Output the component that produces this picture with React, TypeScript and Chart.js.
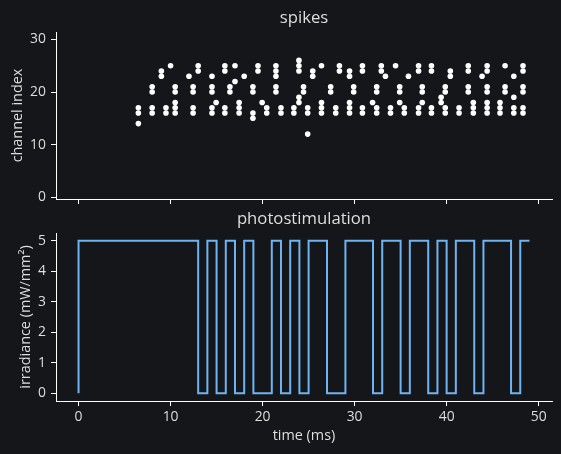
import React, { useEffect, useRef } from "react";
import { Chart, registerables } from "chart.js";

Chart.register(...registerables);

// ---- data ----
const spikeTimes: number[] = [
  6.5, 6.5, 6.5,
  8.0, 8.0, 8.0, 8.0,
  9.0, 9.0,
  9.5, 9.5,
  10.0,
  10.5, 10.5, 10.5, 10.5, 10.5,
  12.0,
  12.45, 12.45, 12.45, 12.45,
  13.0, 13.0,
  14.5, 14.5, 14.5, 14.5, 14.5,
  14.95,
  15.9, 15.9, 15.9, 15.9,
  16.45, 16.45,
  17.0, 17.0,
  17.45, 17.45, 17.45,
  18.0,
  18.95, 18.95, 18.95, 18.95,
  19.5, 19.5,
  19.95,
  20.45, 20.45,
  21.45, 21.45, 21.45, 21.45, 21.45,
  22.0, 22.0,
  23.4, 23.4,
  23.95, 23.95, 23.95, 23.95, 23.95,
  24.45, 24.45,
  24.9, 24.9, 24.9,
  25.45, 25.45,
  26.4, 26.4, 26.4, 26.4,
  27.4, 27.4,
  27.95, 27.95,
  28.35, 28.35,
  29.45, 29.45, 29.45, 29.45, 29.45,
  29.9, 29.9,
  30.85, 30.85, 30.85, 30.85,
  31.95,
  32.4, 32.4, 32.4, 32.4,
  32.9, 32.9,
  33.35,
  33.9, 33.9,
  34.45,
  34.9, 34.9, 34.9,
  35.4, 35.4,
  35.85,
  36.95, 36.95, 36.95, 36.95,
  37.35, 37.35, 37.35,
  38.35, 38.35, 38.35, 38.35,
  39.4, 39.4,
  39.85, 39.85, 39.85, 39.85,
  40.4, 40.4,
  41.35, 41.35,
  42.35, 42.35, 42.35, 42.35,
  42.9, 42.9, 42.9,
  43.85,
  44.4, 44.4, 44.4, 44.4, 44.4, 44.4, 44.4,
  45.8, 45.8, 45.8,
  46.35, 46.35, 46.35,
  47.3, 47.3, 47.3, 47.3,
  48.3, 48.3, 48.3, 48.3, 48.3, 48.3,
];
const spikeChannels: number[] = [
  17, 16, 14,
  21, 20, 17, 16,
  24, 23,
  17, 16,
  25,
  21, 20, 18, 17, 16,
  23,
  21, 20, 17, 16,
  25, 24,
  23, 21, 20, 17, 16,
  18,
  25, 24, 17, 16,
  21, 20,
  25, 22,
  18, 17, 16,
  23,
  21, 20, 16, 15,
  25, 24,
  18,
  17, 16,
  25, 24, 23, 21, 20,
  17, 16,
  17, 16,
  26, 25, 24, 19, 18,
  21, 20,
  17, 16, 12,
  24, 23,
  25, 18, 17, 16,
  21, 20,
  17, 16,
  25, 24,
  24, 23, 18, 17, 16,
  21, 20,
  25, 24, 17, 16,
  18,
  21, 20, 17, 16,
  25, 24,
  23,
  17, 16,
  25,
  21, 20, 18,
  17, 16,
  23,
  25, 24, 17, 16,
  21, 20, 18,
  25, 24, 17, 16,
  19, 18,
  21, 20, 17, 16,
  24, 23,
  17, 16,
  25, 24, 21, 20,
  18, 17, 16,
  23,
  25, 24, 21, 20, 18, 17, 16,
  18, 17, 16,
  25, 21, 20,
  23, 19, 17, 16,
  25, 24, 21, 20, 17, 16,
];

const stimTimes: number[] = [
  0, 1, 2, 3, 4, 5, 6, 7, 8, 9, 10, 11, 12, 13, 14, 15, 16, 17, 18, 19, 20, 21, 22, 23, 24,
  25, 26, 27, 28, 29, 30, 31, 32, 33, 34, 35, 36, 37, 38, 39, 40, 41, 42, 43, 44, 45, 46, 47, 48, 49,
];
const stimIrradiance: number[] = [
  0, 5, 5, 5, 5, 5, 5, 5, 5, 5, 5, 5, 5, 5, 0, 5, 0, 5, 0, 5, 0, 0, 5, 0, 5,
  0, 5, 5, 0, 0, 5, 5, 5, 0, 5, 5, 0, 5, 5, 0, 5, 0, 5, 5, 0, 5, 5, 5, 0, 5,
];

const xTicks: number[] = [0, 10, 20, 30, 40, 50];
const spikeYTicks: number[] = [0, 10, 20, 30];
const stimYTicks: number[] = [0, 1, 2, 3, 4, 5];

// ---- style ----
const BG = "#151619";
const TXT = "#dedede";
const AXIS = "#ffffff";
const LINE = "#6fb4f2";
const FONT = '"Open Sans", "Noto Sans", sans-serif';
const TICK_SIZE = 13.9;
const LABEL_SIZE = 14.4;

const X_MIN = -2.45;
const X_MAX = 51.45;

function titlePlugin(text: string, y: number) {
  return {
    id: "axTitle",
    afterDraw(chart: any) {
      const { ctx, chartArea } = chart;
      ctx.save();
      ctx.font = `16.7px ${FONT}`;
      ctx.fillStyle = TXT;
      ctx.textAlign = "center";
      ctx.textBaseline = "middle";
      ctx.fillText(text, (chartArea.left + chartArea.right) / 2, y);
      ctx.restore();
    },
  };
}

function axisCommon() {
  return {
    grid: {
      display: true,
      drawOnChartArea: false,
      drawTicks: true,
      tickLength: 5,
      color: AXIS,
      tickColor: AXIS,
      lineWidth: 1,
    },
    border: { display: true, color: AXIS, width: 1 },
  };
}

function fixX(h: number) {
  return (s: any) => {
    s.height = h;
    s.paddingLeft = 0;
    s.paddingRight = 0;
    s.paddingTop = 0;
    s.paddingBottom = 0;
  };
}
function fixY(w: number) {
  return (s: any) => {
    s.width = w;
    s.paddingTop = 0;
    s.paddingBottom = 0;
    s.paddingLeft = 0;
    s.paddingRight = 0;
  };
}

export default function App() {
  const c1 = useRef<HTMLCanvasElement>(null);
  const c2 = useRef<HTMLCanvasElement>(null);

  useEffect(() => {
    const spikePoints = spikeTimes.map((t, i) => ({ x: t, y: spikeChannels[i] }));
    const stimPoints = stimTimes.map((t, i) => ({ x: t, y: stimIrradiance[i] }));

    const chart1 = new Chart(c1.current as HTMLCanvasElement, {
      type: "scatter",
      data: {
        datasets: [
          {
            data: spikePoints,
            backgroundColor: "#ffffff",
            borderWidth: 0,
            pointRadius: 2.8,
          },
        ],
      },
      plugins: [titlePlugin("spikes", 18)],
      options: {
        responsive: false,
        animation: false,
        events: [],
        layout: { padding: { top: 32, right: 9, bottom: 0, left: 0 } },
        plugins: { legend: { display: false }, tooltip: { enabled: false }, title: { display: false } },
        scales: {
          x: {
            type: "linear",
            min: X_MIN,
            max: X_MAX,
            ...axisCommon(),
            ticks: { display: false },
            afterBuildTicks: (s: any) => {
              s.ticks = xTicks.map((v) => ({ value: v }));
            },
            afterFit: fixX(11),
          },
          y: {
            type: "linear",
            min: -0.33,
            max: 31.4,
            ...axisCommon(),
            ticks: { color: TXT, font: { family: FONT, size: TICK_SIZE }, padding: 5 },
            afterBuildTicks: (s: any) => {
              s.ticks = spikeYTicks.map((v) => ({ value: v }));
            },
            afterFit: fixY(56),
            title: {
              display: true,
              text: "channel index",
              color: TXT,
              font: { family: FONT, size: LABEL_SIZE },
              padding: { top: 9, bottom: 0 },
            },
          },
        },
      } as any,
    });

    const chart2 = new Chart(c2.current as HTMLCanvasElement, {
      type: "line",
      data: {
        datasets: [
          {
            data: stimPoints,
            borderColor: LINE,
            borderWidth: 2,
            pointRadius: 0,
            fill: false,
            stepped: "after",
          },
        ],
      },
      plugins: [titlePlugin("photostimulation", 19)],
      options: {
        responsive: false,
        animation: false,
        events: [],
        layout: { padding: { top: 33, right: 9, bottom: 0, left: 0 } },
        plugins: { legend: { display: false }, tooltip: { enabled: false }, title: { display: false } },
        scales: {
          x: {
            type: "linear",
            min: X_MIN,
            max: X_MAX,
            ...axisCommon(),
            ticks: { color: TXT, font: { family: FONT, size: TICK_SIZE }, padding: 3, maxRotation: 0 },
            afterBuildTicks: (s: any) => {
              s.ticks = xTicks.map((v) => ({ value: v }));
            },
            afterFit: fixX(53),
            title: {
              display: true,
              text: "time (ms)",
              color: TXT,
              font: { family: FONT, size: LABEL_SIZE },
              padding: { top: 0, bottom: 9 },
            },
          },
          y: {
            type: "linear",
            min: -0.25,
            max: 5.25,
            ...axisCommon(),
            ticks: { color: TXT, font: { family: FONT, size: TICK_SIZE }, padding: 5 },
            afterBuildTicks: (s: any) => {
              s.ticks = stimYTicks.map((v) => ({ value: v }));
            },
            afterFit: fixY(56),
            title: {
              display: true,
              text: "irradiance (mW/mm²)",
              color: TXT,
              font: { family: FONT, size: LABEL_SIZE },
              padding: { top: 17, bottom: 0 },
            },
          },
        },
      } as any,
    });

    return () => {
      chart1.destroy();
      chart2.destroy();
    };
  }, []);

  return (
    <div
      style={{
        position: "fixed",
        left: 0,
        top: 0,
        width: 561,
        height: 454,
        background: BG,
        overflow: "hidden",
      }}
    >
      <canvas
        ref={c1}
        width={561}
        height={210}
        style={{ position: "absolute", left: 0, top: 0, width: 561, height: 210 }}
      />
      <canvas
        ref={c2}
        width={561}
        height={254}
        style={{ position: "absolute", left: 0, top: 200, width: 561, height: 254 }}
      />
    </div>
  );
}
